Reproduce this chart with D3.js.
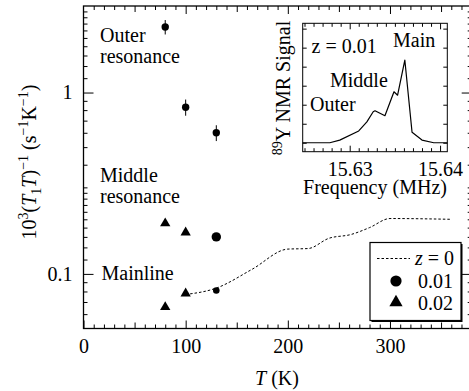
<!DOCTYPE html>
<html>
<head>
<meta charset="utf-8">
<script src="https://cdn.jsdelivr.net/npm/d3@7"></script>
<style>
  body { margin: 0; }
  #chart { display: block; font-family: "Liberation Serif", "Times New Roman", Tinos, serif; }
  #chart text, #chart tspan { font-family: "Liberation Serif", "Times New Roman", Tinos, serif !important; }
</style>
</head>
<body>
<svg id="chart" width="469" height="391" font-family="Liberation Serif"></svg>
<script>
// ---- Relaxation rate 10^3 (T1 T)^-1 in s^-1 K^-1 versus temperature T (K) ----
// z = 0.01, outer resonance (with error bars)
const outerT = [80, 100, 130];
const outerRate = [2.3, 0.83, 0.6];
const outerErr = [0.21, 0.085, 0.06];
// z = 0.01, middle resonance and main line
const middleT01 = [130];
const middleRate01 = [0.16];
const mainT01 = [130];
const mainRate01 = [0.081];
// z = 0.02, middle resonance and main line
const middleT02 = [80, 100];
const middleRate02 = [0.19, 0.169];
const mainT02 = [80, 100];
const mainRate02 = [0.0656, 0.078];
// z = 0 main line (dotted curve)
const pureT = [100, 130, 165, 200, 220, 240, 262, 280, 300, 360];
const pureRate = [0.077, 0.0835, 0.106, 0.137, 0.138, 0.157, 0.165, 0.18, 0.202, 0.2];

// ---- Inset: 89Y NMR spectrum at z = 0.01 ----
const freqMHz = [15.6248, 15.6278, 15.6289, 15.6310, 15.6319, 15.6326, 15.6328, 15.6339,
                 15.6349, 15.6353, 15.6361, 15.6369, 15.6380, 15.6393, 15.6408];
const signal = [0, 0, 0.14, 0.62, 1.1, 1.63, 1.68, 1.42, 2.68, 2.5, 4.35, 0.55, 0.14, 0, 0];

// ---- Tick values ----
const xMajorTicks = [0, 100, 200, 300];
const yMajorTicks = [0.1, 1];
const yMinorTicks = [0.06, 0.07, 0.08, 0.09, 0.12, 0.14, 0.16, 0.18, 0.2, 0.22, 0.24, 0.26, 0.28,
                     0.3, 0.4, 0.5, 0.6, 0.7, 0.8, 0.9, 1.2, 1.4, 1.6, 1.8, 2, 2.2, 2.4, 2.6, 2.8];
const insetFreqTicks = [15.63, 15.64];
const insetSignalTicks = [0, 1, 2, 3, 4, 5, 6];

const FONT = '"Liberation Serif", "Times New Roman", Tinos, serif';
const svg = d3.select("#chart");

const P = { left: 83.5, right: 471.7, top: 6, bottom: 328.5 };
const x = d3.scaleLinear().domain([0, 380]).range([P.left, P.right]);
const y = d3.scaleLog().domain([0.05, 3]).range([P.bottom, P.top]);

// inward-pointing tick set built from a d3 axis generator
function tickSet(gen, tx, ty, values, size, fmt, pad) {
  const a = gen.tickValues(values).tickSizeInner(-size).tickSizeOuter(0);
  if (fmt) a.tickFormat(fmt).tickPadding(pad); else a.tickFormat("");
  const g = svg.append("g").attr("transform", `translate(${tx},${ty})`).call(a);
  g.select(".domain").remove();
  g.attr("font-family", null).attr("font-size", null);
  g.selectAll("line").attr("stroke", "#000").attr("stroke-width", 1);
  g.selectAll("text").attr("fill", "#000")
    .style("font-family", FONT).style("font-size", "20px");
  return g;
}

const minor10 = d3.range(10, 380, 10).filter(v => v % 50 !== 0);
const mid50 = d3.range(50, 380, 100);
const hundreds = [100, 200, 300];

// bottom & top axes
tickSet(d3.axisBottom(x), 0, P.bottom, xMajorTicks, 8, d3.format("d"), 10.5);
tickSet(d3.axisBottom(x), 0, P.bottom, mid50, 6);
tickSet(d3.axisBottom(x), 0, P.bottom, minor10, 4);
tickSet(d3.axisTop(x), 0, P.top, hundreds, 8);
tickSet(d3.axisTop(x), 0, P.top, mid50, 6);
tickSet(d3.axisTop(x), 0, P.top, minor10, 4);
// left & right axes
tickSet(d3.axisLeft(y), P.left, 0, yMajorTicks, 10, d => (d === 1 ? "1" : "0.1"), 11);
tickSet(d3.axisLeft(y), P.left, 0, yMinorTicks, 4);
tickSet(d3.axisRight(y), P.right, 0, yMajorTicks, 10);
tickSet(d3.axisRight(y), P.right, 0, yMinorTicks, 4);

// frame
svg.append("rect")
  .attr("x", P.left).attr("y", P.top)
  .attr("width", P.right - P.left).attr("height", P.bottom - P.top)
  .attr("fill", "none").attr("stroke", "#000").attr("stroke-width", 1.3);

// text helpers
const txt = (tx, ty) => svg.append("text").attr("x", tx).attr("y", ty)
  .attr("font-family", "Liberation Serif")
  .style("font-family", FONT).style("font-size", "20px");
const lab = (tx, ty, s) => txt(tx, ty).text(s);
const rotTxt = (tx, ty) => svg.append("text").attr("transform", `translate(${tx},${ty}) rotate(-90)`)
  .attr("text-anchor", "middle").attr("font-family", "Liberation Serif")
  .style("font-family", FONT).style("font-size", "20px");

// axis titles
const xt = txt(277, 385).attr("text-anchor", "middle");
xt.append("tspan").style("font-style", "italic").text("T");
xt.append("tspan").text(" (K)");

const yt = rotTxt(36, 162);
yt.append("tspan").text("10");
yt.append("tspan").style("font-size", "14px").attr("dy", -8).text("3");
yt.append("tspan").attr("dy", 8).text("(");
yt.append("tspan").style("font-style", "italic").text("T");
yt.append("tspan").style("font-size", "14px").attr("dy", 5).text("1");
yt.append("tspan").attr("dy", -5).style("font-style", "italic").text("T");
yt.append("tspan").text(")");
yt.append("tspan").style("font-size", "14px").attr("dy", -8).text("\u22121");
yt.append("tspan").attr("dy", 8).text(" (s");
yt.append("tspan").style("font-size", "14px").attr("dy", -8).text("\u22121");
yt.append("tspan").attr("dy", 8).text("K");
yt.append("tspan").style("font-size", "14px").attr("dy", -8).text("\u22121");
yt.append("tspan").attr("dy", 8).text(")");

// resonance labels
lab(100, 41.7, "Outer");
lab(100, 63, "resonance");
lab(100, 181.7, "Middle");
lab(100, 203.3, "resonance");
lab(101.5, 280, "Mainline");

// z = 0 dotted curve
const dash = "2.5,2";
svg.append("path")
  .datum(pureT.map((t, i) => [t, pureRate[i]]))
  .attr("fill", "none").attr("stroke", "#000").attr("stroke-width", 1)
  .attr("stroke-dasharray", dash)
  .attr("d", d3.line().x(d => x(d[0])).y(d => y(d[1])).curve(d3.curveMonotoneX));

// z = 0.01 circles
outerT.forEach((t, i) => {
  svg.append("line").attr("x1", x(t)).attr("x2", x(t))
    .attr("y1", y(outerRate[i] - outerErr[i])).attr("y2", y(outerRate[i] + outerErr[i]))
    .attr("stroke", "#000").attr("stroke-width", 1);
  svg.append("circle").attr("cx", x(t)).attr("cy", y(outerRate[i])).attr("r", 3.7);
});
middleT01.forEach((t, i) => svg.append("circle").attr("cx", x(t)).attr("cy", y(middleRate01[i])).attr("r", 4.7));
mainT01.forEach((t, i) => svg.append("circle").attr("cx", x(t)).attr("cy", y(mainRate01[i])).attr("r", 3.3));

// z = 0.02 triangles
const tri = d3.symbol().type(d3.symbolTriangle).size(46);
middleT02.forEach((t, i) => svg.append("path").attr("d", tri())
  .attr("transform", `translate(${x(t)},${y(middleRate02[i])})`));
mainT02.forEach((t, i) => svg.append("path").attr("d", tri())
  .attr("transform", `translate(${x(t)},${y(mainRate02[i])})`));

// legend
const L = { x: 370, y: 242.5, w: 91, h: 78 };
svg.append("rect").attr("x", L.x + 1.5).attr("y", L.y + 1.5).attr("width", L.w).attr("height", L.h).attr("fill", "#000");
svg.append("rect").attr("x", L.x).attr("y", L.y).attr("width", L.w).attr("height", L.h)
  .attr("fill", "#fff").attr("stroke", "#000").attr("stroke-width", 1.2);
svg.append("line").attr("x1", 377).attr("x2", 410).attr("y1", 258.5).attr("y2", 258.5)
  .attr("stroke", "#000").attr("stroke-width", 1).attr("stroke-dasharray", dash);
const l1 = txt(415, 265);
l1.append("tspan").style("font-style", "italic").text("z");
l1.append("tspan").text(" = 0");
svg.append("circle").attr("cx", 396).attr("cy", 281).attr("r", 5.6);
lab(418, 288, "0.01");
svg.append("path").attr("d", d3.symbol().type(d3.symbolTriangle).size(76)())
  .attr("transform", "translate(396,302.5)");
lab(418, 310, "0.02");

// ---- inset spectrum ----
const I = { left: 302.7, right: 447.3, top: 23.3, bottom: 151.7 };
const fx = d3.scaleLinear().domain([15.6248, 15.6408]).range([I.left, I.right]);
const sy = d3.scaleLinear().domain([-0.47, 6.28]).range([I.bottom, I.top]);

svg.append("rect").attr("x", I.left).attr("y", I.top)
  .attr("width", I.right - I.left).attr("height", I.bottom - I.top).attr("fill", "#fff");

const fMinor = d3.range(15.625, 15.6405, 0.001).filter(v => Math.abs(v - 15.63) > 1e-4 && Math.abs(v - 15.64) > 1e-4);
tickSet(d3.axisBottom(fx), 0, I.bottom, insetFreqTicks, 6, d3.format(".2f"), 10);
tickSet(d3.axisBottom(fx), 0, I.bottom, fMinor, 3.5);
tickSet(d3.axisTop(fx), 0, I.top, insetFreqTicks, 6);
tickSet(d3.axisTop(fx), 0, I.top, fMinor, 3.5);
tickSet(d3.axisLeft(sy), I.left, 0, insetSignalTicks, 4);
tickSet(d3.axisRight(sy), I.right, 0, insetSignalTicks, 4);

svg.append("path")
  .datum(freqMHz.map((f, i) => [f, signal[i]]))
  .attr("fill", "none").attr("stroke", "#000").attr("stroke-width", 1.2)
  .attr("stroke-linejoin", "round")
  .attr("d", d3.line().x(d => fx(d[0])).y(d => sy(d[1])));

svg.append("rect").attr("x", I.left).attr("y", I.top)
  .attr("width", I.right - I.left).attr("height", I.bottom - I.top)
  .attr("fill", "none").attr("stroke", "#000").attr("stroke-width", 1);

lab(311.5, 53.3, "z = 0.01");
lab(393, 46.7, "Main");
lab(330, 87.3, "Middle");
lab(310, 111, "Outer");
txt(375, 193.5).attr("text-anchor", "middle").text("Frequency (MHz)");
const iy = rotTxt(290, 88);
iy.append("tspan").style("font-size", "14px").attr("dy", -8).text("89");
iy.append("tspan").attr("dy", 8).text("Y NMR Signal");
</script>
</body>
</html>
